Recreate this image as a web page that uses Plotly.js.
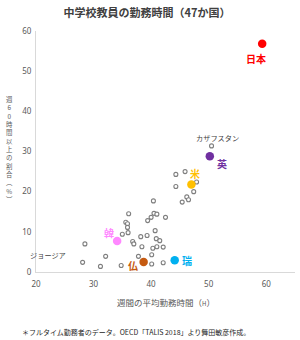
<!DOCTYPE html>
<html>
<head>
<meta charset="utf-8">
<script src="https://cdn.plot.ly/plotly-3.0.1.min.js"></script>
<style>html,body{margin:0;padding:0;background:#fff;}#chart{width:300px;height:340px;}</style>
</head>
<body>
<div id="chart"></div>
<script>
// Other countries (gray small circles): weekly hours, share working 60h+ (%)
const otherX = [28.5, 28.1, 32.1, 31.2, 34.8, 36.1, 35.6, 35.9, 35.9, 35.0, 36.0, 36.8, 37.0, 37.8, 38.2, 38.4, 39.4, 39.3,
                50.5, 44.3, 45.9, 44.3, 47.9, 47.4, 46.2, 46.5, 45.4, 40.4, 40.5, 41.0, 40.0, 42.5, 40.7, 40.9, 41.5, 40.3, 41.0, 42.1, 40.1, 40.1, 42.1];
const otherY = [7.0, 2.4, 3.9, 1.4, 1.6, 14.5, 12.4, 12.0, 11.1, 9.4, 9.8, 7.6, 7.0, 3.9, 8.8, 6.3, 12.8, 9.1,
                31.4, 24.3, 25.0, 21.3, 22.4, 20.0, 18.7, 18.0, 17.4, 17.7, 14.6, 14.4, 13.6, 13.6, 10.3, 8.3, 7.8, 5.9, 6.3, 6.2, 4.3, 2.0, 2.3];

// Named gray countries (index into other arrays)
const grayLabels = ["カザフスタン", "ジョージア"];
const grayLabelIdx = [18, 1];

// Highlighted countries
const hiNames = ["日本", "英", "米", "韓", "仏", "瑞"];
const hiX = [59.3, 50.2, 47.0, 34.1, 38.7, 44.1];
const hiY = [56.8, 28.8, 21.8, 7.7, 2.5, 2.9];
const hiColors = ["#ff0000", "#7030a0", "#ffc000", "#ff88ff", "#c55a11", "#00b0f0"];

// Axis ticks
const xTicks = [20, 30, 40, 50, 60];
const yTicks = [0, 10, 20, 30, 40, 50, 60];

// vertical (stacked) y-axis title characters
const yTitleChars = ["週","6","0","時","間","以","上","の","割","合","︵","%","︶"];

const jp = '"Noto Sans CJK JP", "Noto Sans", sans-serif';

const traces = [
  {
    type: 'scatter', mode: 'markers', x: otherX, y: otherY, hoverinfo: 'skip',
    marker: {symbol: 'circle', size: 4, color: '#ffffff', line: {color: '#7f7f7f', width: 1.1}}
  },
  {
    type: 'scatter', mode: 'markers', x: hiX, y: hiY, hoverinfo: 'skip',
    marker: {symbol: 'circle', size: 8.5, color: hiColors, line: {width: 0}}
  }
];

// label offsets (px) for highlighted labels
const hiShift = [[-6, -15], [12, -7], [4, 11], [-8, 9], [-11, -4], [12, 0]];
const grayShift = [[6, 8], [-35, 7]];

const annotations = [];
hiNames.forEach((n, i) => {
  annotations.push({
    x: hiX[i], y: hiY[i], xref: 'x', yref: 'y', text: '<b>' + n + '</b>', showarrow: false,
    xshift: hiShift[i][0], yshift: hiShift[i][1],
    font: {family: jp, size: 10, color: hiColors[i]}
  });
});
grayLabels.forEach((n, i) => {
  const k = grayLabelIdx[i];
  annotations.push({
    x: otherX[k], y: otherY[k], xref: 'x', yref: 'y', text: n, showarrow: false,
    xshift: grayShift[i][0], yshift: grayShift[i][1],
    font: {family: jp, size: 7.2, color: '#404040'}
  });
});
// vertical y-axis title (one stacked text)
annotations.push({
  xref: 'paper', yref: 'paper', x: (9 - 36) / 259, y: (272 - 149) / 241,
  text: yTitleChars.join('<br>'), showarrow: false, xanchor: 'center', yanchor: 'middle',
  font: {family: jp, size: 6.4, color: '#595959'}
});
// x-axis title
annotations.push({
  xref: 'paper', yref: 'paper', x: 0.5, y: (272 - 301.5) / 241, xanchor: 'center', yanchor: 'middle',
  text: '週間の平均勤務時間（<span style="font-size:6px">H</span>）', showarrow: false,
  font: {family: jp, size: 8.5, color: '#595959'}
});
// footnote
annotations.push({
  xref: 'paper', yref: 'paper', x: (20 - 36) / 259, y: (272 - 331.5) / 241, xanchor: 'left', yanchor: 'middle',
  text: '＊フルタイム勤務者のデータ。OECD「TALIS 2018」より舞田敏彦作成。', showarrow: false,
  font: {family: jp, size: 7, color: '#262626'}
});

const layout = {
  width: 300, height: 340,
  margin: {l: 36, r: 5, t: 31, b: 68},
  paper_bgcolor: '#ffffff', plot_bgcolor: '#ffffff',
  showlegend: false,
  title: {text: '<b>中学校教員の勤務時間（47か国）</b>', x: 0.49, xanchor: 'center', y: 1 - 12.7 / 340, yanchor: 'middle',
          font: {family: jp, size: 11, color: '#404040'}},
  xaxis: {range: [20, 65], tickvals: xTicks, ticktext: xTicks.map(String), showgrid: false, zeroline: false,
          showline: true, linecolor: '#d9d9d9', linewidth: 1, ticks: '', ticklabelstandoff: 4,
          tickfont: {family: '"Noto Sans", sans-serif', size: 8, color: '#595959'}},
  yaxis: {range: [0, 60], tickvals: yTicks, ticktext: yTicks.map(String), showgrid: false, zeroline: false,
          showline: true, linecolor: '#d9d9d9', linewidth: 1, ticks: '', ticklabelstandoff: 2,
          tickfont: {family: '"Noto Sans", sans-serif', size: 8, color: '#595959'}},
  annotations: annotations
};

Plotly.newPlot('chart', traces, layout, {staticPlot: true, displayModeBar: false});
</script>
</body>
</html>
